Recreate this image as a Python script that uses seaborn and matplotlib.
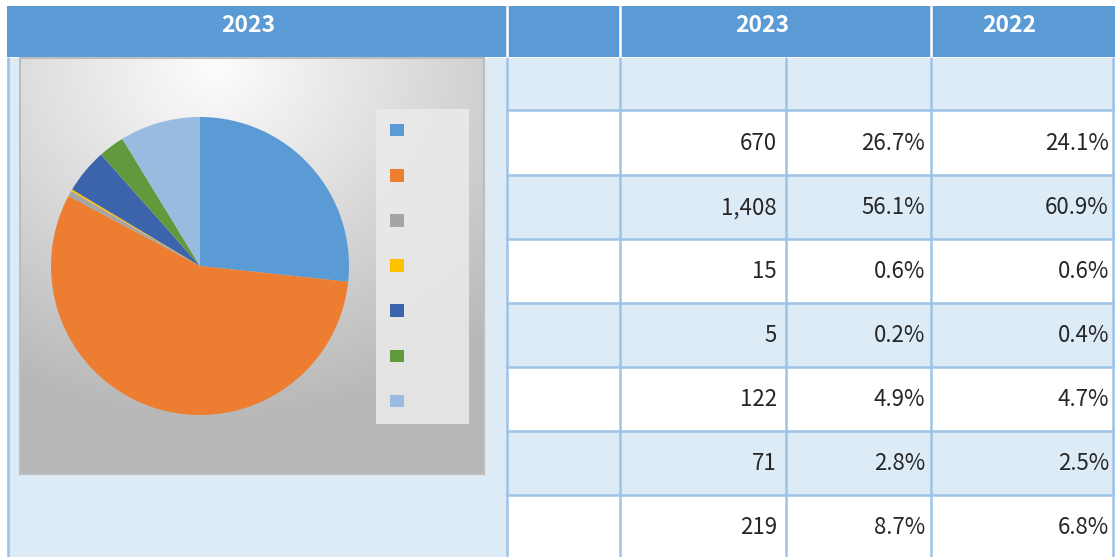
import numpy as np
import matplotlib
matplotlib.use("Agg")
from matplotlib import pyplot as plt
from matplotlib.patches import Rectangle, Patch
import seaborn as sns

# data
values_2023 = [670, 1408, 15, 5, 122, 71, 219]
share_2023 = [26.7, 56.1, 0.6, 0.2, 4.9, 2.8, 8.7]
share_2022 = [24.1, 60.9, 0.6, 0.4, 4.7, 2.5, 6.8]
header_left = "2023"
header_mid = "2023"
header_right = "2022"
pie_colors = ["#5B9BD5", "#ED7D31", "#A5A5A5", "#FFC000", "#3C64AD", "#63993D", "#99BBE0"]

sns.set_style("white")
plt.rcParams["font.family"] = ["Noto Sans CJK JP", "DejaVu Sans"]

W, H = 1115, 557
HEAD = "#5B9BD5"
LIGHT = "#DDEBF7"
LINE = "#9DC3E6"

fig = plt.figure(figsize=(W / 100, H / 100), dpi=100)
ax = fig.add_axes([0, 0, 1, 1])
ax.set_xlim(0, W)
ax.set_ylim(H, 0)
ax.axis("off")

# header bar
ax.add_patch(Rectangle((7, 6), W - 7, 51, color=HEAD, lw=0))
for x in [507, 620, 931]:
    ax.axvline(x, ymin=1 - 57 / H, ymax=1 - 6 / H, color="white", lw=1.8)
head_kw = dict(color="white", fontsize=16.5, fontweight="bold", ha="center", va="center")
ax.text(248, 25, header_left, **head_kw)
ax.text(762, 25, header_mid, **head_kw)
ax.text(1009, 25, header_right, **head_kw)

# left panel
ax.add_patch(Rectangle((7, 58), 500, H - 58, color=LIGHT, lw=0))
ax.plot([8, 8], [58, H], color=LINE, lw=1.8)

# table body
row_edges = [58, 110, 175, 239, 303, 367, 431, 495, H]
col_edges = [507, 620, 786, 931, W - 2]
for i in range(len(row_edges) - 1):
    fc = LIGHT if i % 2 == 0 else "white"
    ax.add_patch(Rectangle((507, row_edges[i]), W - 507, row_edges[i + 1] - row_edges[i],
                           color=fc, lw=0))
for y in row_edges[1:-1]:
    ax.plot([507, W - 2], [y, y], color=LINE, lw=1.8)
for x in col_edges:
    ax.plot([x, x], [58, H], color=LINE, lw=1.8)

for i in range(len(values_2023)):
    yc = (row_edges[i + 1] + row_edges[i + 2]) / 2 + 1
    ax.text(777, yc, f"{values_2023[i]:,}", fontsize=16, ha="right", va="center")
    ax.text(925, yc, f"{share_2023[i]:.1f}%", fontsize=16, ha="right", va="center")
    ax.text(1109, yc, f"{share_2022[i]:.1f}%", fontsize=16, ha="right", va="center")

# chart area background (grey gradient)
yy, xx = np.mgrid[0:1:200j, 0:1:200j]
d = np.sqrt(((xx - 0.42) / 0.9) ** 2 + ((yy - 0.02) / 0.85) ** 2)
bg = np.clip(0.99 - 0.27 * d, 0.72, 0.99)
ax.imshow(bg, cmap="gray", vmin=0, vmax=1, extent=[20, 484, 474, 58], aspect="auto",
          interpolation="bicubic", zorder=1)
ax.add_patch(Rectangle((20, 58), 464, 416, fill=False, ec="#BDBDBD", lw=1.5, zorder=2))
ax.add_patch(Rectangle((376, 109), 93, 315, color="#EBEBEB", alpha=0.85, lw=0, zorder=2))

# pie
cx, cy, r = 200, 266, 149
pax = fig.add_axes([(cx - r) / W, (H - cy - r) / H, 2 * r / W, 2 * r / H])
pax.pie(values_2023, colors=sns.color_palette(pie_colors), startangle=90, counterclock=False,
        radius=1, wedgeprops=dict(linewidth=0))
pax.set_xlim(-1, 1)
pax.set_ylim(-1, 1)
pax.axis("off")

# legend (labels are empty in the reference)
handles = [Patch(facecolor=c, edgecolor="none") for c in pie_colors]
fig.legend(handles, [""] * len(handles), loc="upper left",
           bbox_to_anchor=(390 / W, 1 - 124 / H), frameon=False, fontsize=10,
           handlelength=1.0, handleheight=1.0, labelspacing=2.24, borderpad=0,
           borderaxespad=0, handletextpad=0.2)

fig.savefig("out.png", dpi=100)
